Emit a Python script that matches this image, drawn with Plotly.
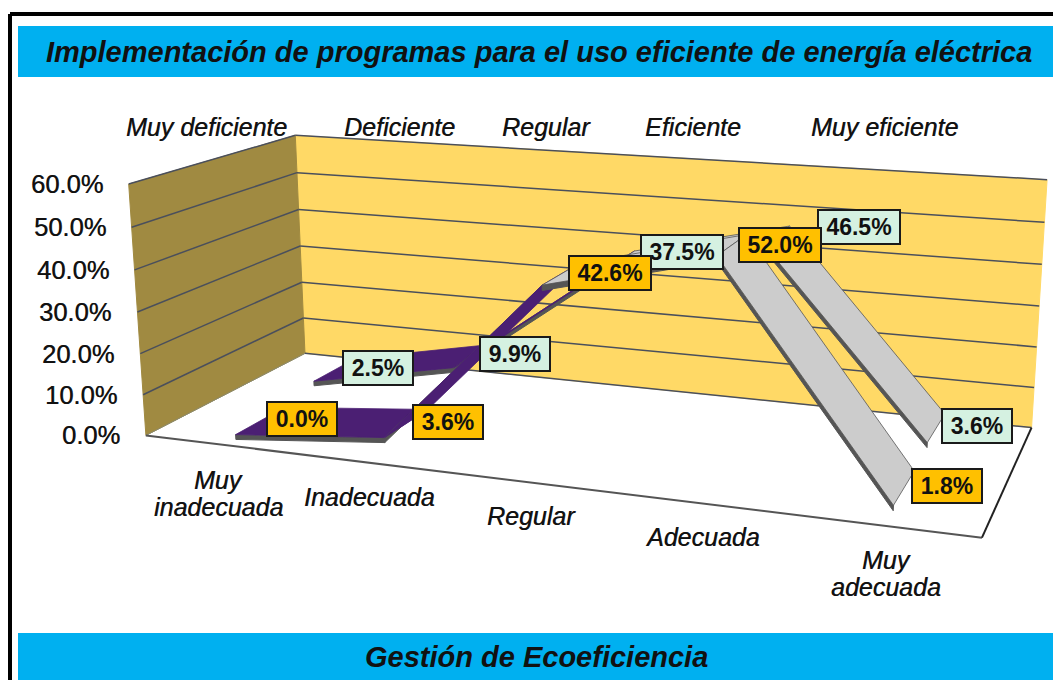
import numpy as np
import plotly.graph_objects as go

# Chart values
categories = ["Muy<br>inadecuada", "Inadecuada", "Regular", "Adecuada", "Muy<br>adecuada"]
top_labels = ["Muy deficiente", "Deficiente", "Regular", "Eficiente", "Muy eficiente"]
implementacion = [0.0, 3.6, 42.6, 52.0, 1.8]     # front ribbon, orange labels
gestion = [2.5, 9.9, 37.5, 46.5, 3.6]            # back ribbon, green labels
y_ticks = [0, 10, 20, 30, 40, 50, 60]

title_top = "Implementación de programas para el uso eficiente de energía eléctrica"
title_bottom = "Gestión de Ecoeficiencia"

# Label placement in the picture
pos_impl = [(302, 419), (448, 422), (610, 273), (780, 245), (947, 486)]
pos_gest = [(378, 368), (515, 354), (682, 252), (859, 227), (977, 426)]
pos_cat = [(218, 493), (369, 497), (531, 516), (702, 537), (886, 573)]
pos_top = [206, 399, 546, 693, 884]

FONT = "Liberation Sans"
WALL = "#FFD966"
SIDE_WALL = "#A08A41"
GRID = "#4A4F5C"
PURPLE = "#4B1F73"
GREY = "#CCCCCC"
EDGE = "#555555"
HEAVY = "0.5px 0 0.5px rgba(0,0,0,0.7)"   # the reference text is blurred and looks heavier

# Excel's 3D box: (category, depth 0-1, value) -> picture position, fitted on the box corners
world = [(0, 0, 0), (0, 0, 60), (0, 1, 0), (0, 1, 60), (5, 1, 0), (5, 1, 60), (5, 0, 0), (1, 0, 0), (4, 0, 0)]
image = [(147, 434), (128, 183), (304, 353), (296, 136), (1032, 427), (1047, 180), (982, 537), (293, 456), (792, 515)]
A, b = [], []
for (X, Y, Z), (u, v) in zip(world, image):
    A.append([X, Y, Z, 1, 0, 0, 0, 0, -u * X, -u * Y, -u * Z])
    A.append([0, 0, 0, 0, X, Y, Z, 1, -v * X, -v * Y, -v * Z])
    b += [u, v]
P = np.append(np.linalg.lstsq(np.array(A, float), np.array(b, float), rcond=None)[0], 1).reshape(3, 4)


def project(x, y, z):
    p = P @ np.array([x, y, z, 1.0])
    return p[0] / p[2], p[1] / p[2]


fig = go.Figure()


def poly(points, fill, line=None, width=1):
    px = [project(*p) for p in points]
    fig.add_trace(go.Scatter(
        x=[q[0] for q in px] + [px[0][0]],
        y=[q[1] for q in px] + [px[0][1]],
        mode="lines",
        fill="toself",
        fillcolor=fill,
        line=dict(color=line or fill, width=width),
        hoverinfo="skip",
        showlegend=False,
    ))


def edge(p1, p2, color=GRID, width=1.5):
    a, c = project(*p1), project(*p2)
    fig.add_trace(go.Scatter(
        x=[a[0], c[0]], y=[a[1], c[1]], mode="lines",
        line=dict(color=color, width=width),
        hoverinfo="skip", showlegend=False,
    ))


# Walls and floor
poly([(0, 1, 0), (5, 1, 0), (5, 1, 60), (0, 1, 60)], WALL)
poly([(0, 0, 0), (0, 1, 0), (0, 1, 60), (0, 0, 60)], SIDE_WALL)
for t in y_ticks[1:]:
    edge((0, 0, t), (0, 1, t))
    edge((0, 1, t), (5, 1, t))
edge((0, 0, 0), (0, 1, 0), "#8A8A70", 1)
edge((0, 1, 0), (5, 1, 0))
edge((0, 0, 0), (5, 0, 0), "#555555", 2)
edge((5, 0, 0), (5, 1, 0), "#222222", 2)


# Each series is a flat ribbon with a dark thin side
def ribbon(values, y0, y1):
    for i in range(len(values) - 1):
        x0, x1 = i + 0.5, i + 1.5
        v0, v1 = values[i], values[i + 1]
        poly([(x0, y0, v0), (x1, y0, v1), (x1, y0, v1 - 1.2), (x0, y0, v0 - 1.2)], EDGE)
        color = PURPLE if i < 2 else GREY
        poly([(x0, y0, v0), (x1, y0, v1), (x1, y1, v1), (x0, y1, v0)], color, EDGE if i >= 2 else color, 0.8)


ribbon(gestion, 0.6, 0.9)
ribbon(implementacion, 0.1, 0.4)


def note(x, y, text, size, heavy=True, **kw):
    font = dict(family=FONT, size=size, color="#111111")
    if heavy:
        font["shadow"] = HEAVY
    fig.add_annotation(x=x, y=y, text=text, showarrow=False, xref="x", yref="y", font=font, **kw)


# Value labels
for vals, places, bg in [(gestion, pos_gest, "#D5F1E1"), (implementacion, pos_impl, "#FFC000")]:
    for v, (lx, ly) in zip(vals, places):
        label = f"{v:.1f}%"
        note(lx, ly, f"<b>{label}</b>", 23, heavy=False, bgcolor=bg, bordercolor="#1A1A1A", borderwidth=2,
             borderpad=1, width=66 if len(label) == 4 else 78, height=30, align="center", valign="middle")

# Axis text
for t in y_ticks:
    tx, ty = project(0, 0, t)
    note(tx - 24, ty, f"{t:.1f}%", 25.5, xanchor="right")
for name, lx in zip(top_labels, pos_top):
    note(lx, 127, f"<i>{name}</i>", 25)
for name, (lx, ly) in zip(categories, pos_cat):
    lines = name.split("<br>")
    for k, line in enumerate(lines):
        note(lx, ly + (k - (len(lines) - 1) / 2) * 27, f"<i>{line}</i>", 25)

# Title bands and outer frame
note(539, 52, f"<b><i>{title_top}</i></b>", 29, heavy=False)
note(536, 657, f"<b><i>{title_bottom}</i></b>", 29, heavy=False)
fig.add_shape(type="rect", x0=18, x1=1053, y0=26, y1=77, fillcolor="#00B0F0", line_width=0, layer="below")
fig.add_shape(type="rect", x0=18, x1=1053, y0=633, y1=680, fillcolor="#00B0F0", line_width=0, layer="below")
fig.add_shape(type="line", x0=10, x1=10, y0=14, y1=680, line=dict(color="black", width=4), layer="below")
fig.add_shape(type="line", x0=10, x1=1053, y0=14, y1=14, line=dict(color="black", width=4), layer="below")

fig.update_layout(
    width=1053,
    height=680,
    margin=dict(l=0, r=0, t=0, b=0),
    paper_bgcolor="white",
    plot_bgcolor="white",
    xaxis=dict(visible=False, range=[0, 1053], fixedrange=True),
    yaxis=dict(visible=False, range=[680, 0], fixedrange=True),
)

fig.write_html("out.html", config={"displayModeBar": False},
               post_script="document.body.style.margin='0';")
